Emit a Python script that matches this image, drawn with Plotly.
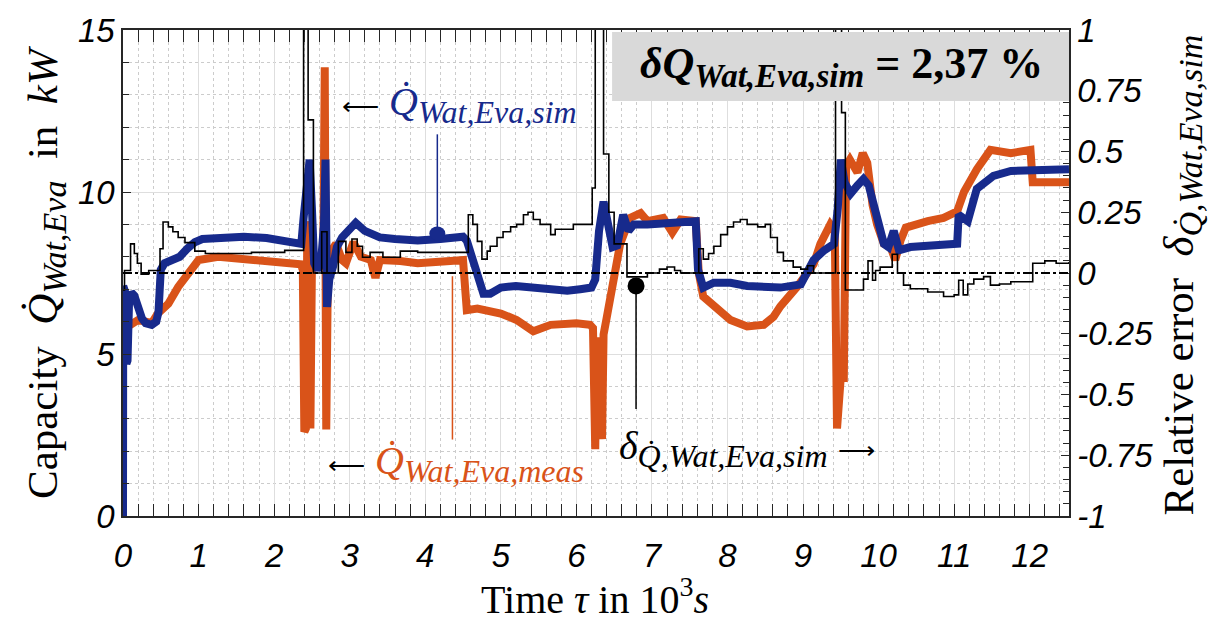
import plotly.graph_objects as go

# ---- measured and simulated evaporator water-side capacity (kW) over time (10^3 s)
meas_t = [0.000, 0.03, 0.10, 0.20, 0.30, 0.38, 0.46, 0.60, 0.73, 0.86, 1.00, 1.26, 1.70, 2.14,
          2.35, 2.38, 2.40, 2.42, 2.44, 2.46, 2.48, 2.50, 2.55, 2.65, 2.67, 2.69, 2.71, 2.76,
          2.82, 2.90, 2.95, 3.05, 3.15, 3.28, 3.34, 3.40, 3.67, 3.90, 4.33, 4.50, 4.55, 4.69,
          5.00, 5.21, 5.43, 5.66, 6.00, 6.18, 6.22, 6.25, 6.27, 6.31, 6.34, 6.36, 6.40, 6.45,
          6.50, 6.58, 6.71, 6.85, 6.94, 7.15, 7.27, 7.38, 7.58, 7.62, 7.68, 7.82, 8.04, 8.26,
          8.48, 8.61, 8.70, 8.92, 9.14, 9.23, 9.36, 9.42, 9.45, 9.50, 9.54, 9.57, 9.62, 9.72,
          9.79, 9.85, 9.92, 9.98, 10.07, 10.16, 10.22, 10.29, 10.36, 10.65, 10.86, 11.04,
          11.13, 11.30, 11.48, 11.75, 12.01, 12.04, 12.52]
meas_q = [5.7, 6.0, 5.9, 6.05, 6.0, 5.95, 6.25, 6.55, 7.07, 7.47, 7.9, 8.0, 7.9, 7.85,
          7.77, 7.6, 2.6, 2.7, 9.1, 8.0, 2.7, 7.7, 7.8, 7.7, 13.85, 2.67, 7.2, 8.2,
          8.4, 7.9, 7.8, 8.45, 8.0, 7.9, 7.35, 7.9, 7.87, 7.8, 7.87, 7.9, 6.35, 6.4,
          6.25, 6.05, 5.7, 5.9, 5.95, 5.9, 5.8, 2.06, 5.5, 5.0, 2.37, 5.6, 6.1, 6.8,
          7.55, 8.4, 9.2, 9.35, 9.1, 9.2, 8.75, 9.15, 9.1, 7.5, 6.77, 6.47, 6.05, 5.85,
          5.9, 6.15, 6.47, 7.07, 7.77, 8.4, 9.0, 8.8, 2.7, 4.3, 4.28, 10.8, 11.0, 10.6,
          11.2, 10.9, 9.6, 9.0, 8.4, 8.3, 7.9, 8.5, 8.9, 9.1, 9.2, 9.4,
          10.0, 10.7, 11.3, 11.2, 11.3, 10.3, 10.3]

sim_t = [0.000, 0.003, 0.03, 0.045, 0.06, 0.08, 0.11, 0.15, 0.20, 0.25, 0.30, 0.38, 0.44, 0.47,
         0.50, 0.55, 0.65, 0.75, 0.85, 0.95, 1.05, 1.30, 1.60, 1.90, 2.10, 2.30, 2.36, 2.39,
         2.44, 2.47, 2.50, 2.53, 2.57, 2.62, 2.66, 2.68, 2.70, 2.73, 2.78, 2.83, 2.90, 3.00,
         3.08, 3.20, 3.40, 3.60, 3.90, 4.20, 4.50, 4.55, 4.60, 4.69, 4.77, 4.86, 5.00, 5.20,
         5.43, 5.70, 5.88, 6.05, 6.20, 6.25, 6.30, 6.36, 6.42, 6.48, 6.54, 6.62, 6.69, 6.76,
         6.94, 7.20, 7.38, 7.58, 7.61, 7.64, 7.68, 7.82, 8.04, 8.26, 8.50, 8.70, 8.97, 9.06,
         9.14, 9.28, 9.41, 9.46, 9.50, 9.55, 9.63, 9.72, 9.80, 9.87, 9.98, 10.07, 10.13,
         10.20, 10.27, 10.42, 10.70, 11.04, 11.06, 11.12, 11.18, 11.30, 11.52, 11.75, 12.19,
         12.52]
sim_q = [0.0, 7.1, 6.9, 4.7, 4.8, 6.6, 6.9, 6.8, 6.4, 6.1, 5.95, 5.9, 6.0, 6.3,
         7.6, 7.8, 7.9, 8.0, 8.25, 8.45, 8.55, 8.6, 8.62, 8.58, 8.5, 8.45, 8.4, 9.2,
         10.8, 11.0, 9.5, 7.8, 7.6, 7.8, 9.0, 11.0, 6.45, 7.3, 7.7, 8.3, 8.6, 8.9,
         9.05, 8.8, 8.6, 8.55, 8.5, 8.55, 8.62, 8.5, 8.1, 7.4, 6.86, 6.86, 7.05, 7.1,
         7.07, 7.0, 6.95, 7.0, 7.05, 7.3, 8.8, 9.7, 8.8, 8.3, 8.35, 9.3, 8.8, 9.0,
         9.0, 9.05, 9.1, 9.1, 7.6, 7.25, 7.05, 7.2, 7.2, 7.1, 7.05, 7.05, 7.15, 7.6,
         7.9, 8.2, 8.4, 9.5, 11.0, 10.3, 9.95, 10.2, 10.4, 10.2, 9.3, 8.4, 8.3,
         8.8, 8.2, 8.3, 8.35, 8.4, 9.3, 9.2, 9.1, 10.1, 10.5, 10.65, 10.7,
         10.7]

# ---- relative error of the simulation (stepwise, right axis)
err_t = [0.00, 0.02, 0.10, 0.15, 0.19, 0.24, 0.34, 0.49, 0.53, 0.60, 0.66, 0.73, 0.82, 0.95,
         1.09, 1.70, 2.14, 2.39, 2.45, 2.52, 2.63, 2.70, 2.85, 2.95, 3.03, 3.10, 3.17, 3.27,
         3.44, 3.67, 3.90, 4.57, 4.63, 4.69, 4.75, 4.82, 4.86, 4.95, 5.03, 5.13, 5.21, 5.30,
         5.36, 5.43, 5.52, 5.66, 5.72, 5.96, 6.21, 6.25, 6.36, 6.43, 6.50, 6.67, 6.94, 7.10,
         7.20, 7.30, 7.38, 7.62, 7.68, 7.75, 7.82, 7.91, 8.00, 8.08, 8.17, 8.26, 8.40, 8.50,
         8.57, 8.66, 8.74, 8.87, 8.97, 9.06, 9.14, 9.43, 9.51, 9.56, 9.80, 9.86, 9.92, 9.96,
         10.02, 10.18, 10.25, 10.33, 10.42, 10.65, 10.86, 11.00, 11.06, 11.12, 11.18, 11.26,
         11.39, 11.48, 11.60, 11.75, 12.04, 12.20, 12.35, 12.52]
err_d = [-0.07, 0.01, 0.12, 0.08, 0.04, -0.005, 0.01, 0.10, 0.21, 0.19, 0.17, 0.146, 0.125, 0.09,
         0.08, 0.085, 0.093, 1.5, 0.63, 0.0, 0.17, 0.0, 0.13, 0.085, 0.14, 0.11, 0.065, 0.085,
         0.065, 0.09, 0.085, 0.24, 0.2, 0.13, 0.057, 0.09, 0.11, 0.146, 0.17, 0.19, 0.2, 0.24,
         0.25, 0.22, 0.2, 0.158, 0.18, 0.2, 0.35, 1.5, 0.49, 0.25, 0.12, -0.016, 0.0, 0.016,
         0.025, 0.01, 0.0, 0.1, 0.057, 0.08, 0.11, 0.158, 0.19, 0.21, 0.22, 0.2, 0.19, 0.2,
         0.146, 0.085, 0.05, 0.024, 0.016, 0.03, 0.0, 1.5, 0.66, -0.07, -0.025, 0.05, -0.03, 0.01,
         0.024, 0.077, 0.0, -0.05, -0.065, -0.078, -0.097, -0.09, -0.03, -0.09, -0.045, -0.025,
         -0.015, -0.05, -0.045, -0.036, 0.04, 0.05, 0.04, 0.045]

x_ticks = [0, 1, 2, 3, 4, 5, 6, 7, 8, 9, 10, 11, 12]
y_ticks = [0, 5, 10, 15]
err_ticks = [-1, -0.75, -0.5, -0.25, 0, 0.25, 0.5, 0.75, 1]
err_ticktext = ["-1", "-0.75", "-0.5", "-0.25", "0", "0.25", "0.5", "0.75", "1"]

ORANGE = "#d95319"
BLUE = "#172a8c"
AXIS = "#262626"
SERIF = "Liberation Serif"
TICKFONT = dict(family="Liberation Sans", size=33, color="black", style="italic")


def sub(s, px):
    """Subscript with an explicit, LaTeX-like size."""
    return f'<sub><span style="font-size:{px}px"><i>{s}</i></span></sub>'


def arrow(glyph):
    """Black pointer arrow next to a coloured label."""
    return f'<span style="color:black;font-size:26px">{glyph}</span>'


fig = go.Figure()
fig.add_trace(go.Scatter(x=meas_t, y=meas_q, mode="lines", yaxis="y",
                         line=dict(color=ORANGE, width=8), showlegend=False))
fig.add_trace(go.Scatter(x=sim_t, y=sim_q, mode="lines", yaxis="y",
                         line=dict(color=BLUE, width=8), showlegend=False))
fig.add_trace(go.Scatter(x=err_t, y=err_d, mode="lines", yaxis="y2",
                         line=dict(color="black", width=1.6, shape="hv"), showlegend=False))

grid_major = "#dedede"
grid_minor = "#cccccc"

fig.update_layout(
    width=1229, height=622,
    margin=dict(l=123, r=160, t=22, b=106),
    paper_bgcolor="white", plot_bgcolor="white",
    xaxis=dict(range=[0, 12.52], tickvals=x_ticks, ticks="inside", ticklen=12,
               tickwidth=1.3, tickcolor=AXIS, showline=True, linecolor=AXIS, linewidth=1.5,
               mirror="allticks", showgrid=True, gridcolor=grid_major, gridwidth=1,
               zeroline=False, tickfont=TICKFONT, ticklabelstandoff=10,
               minor=dict(dtick=0.2, ticks="inside", ticklen=6, tickcolor=AXIS,
                          showgrid=True, gridcolor=grid_minor, griddash="dot", gridwidth=1)),
    yaxis=dict(range=[0, 15], tickvals=y_ticks, ticks="inside", ticklen=8,
               tickwidth=1.3, tickcolor=AXIS, showline=True, linecolor=AXIS, linewidth=1.5,
               showgrid=True, gridcolor=grid_major, gridwidth=1, zeroline=False,
               tickfont=TICKFONT,
               minor=dict(dtick=1, ticks="inside", ticklen=6, tickcolor=AXIS,
                          showgrid=True, gridcolor=grid_minor, griddash="dot", gridwidth=1)),
    yaxis2=dict(range=[-1, 1], overlaying="y", side="right", tickvals=err_ticks,
                ticktext=err_ticktext, ticks="inside", ticklen=8, tickwidth=1.3,
                tickcolor=AXIS, showline=True, linecolor=AXIS, linewidth=1.5,
                showgrid=False, zeroline=False, tickfont=TICKFONT,
                minor=dict(dtick=0.05, ticks="inside", ticklen=6, tickcolor=AXIS)),
)

# zero reference of the relative error
fig.add_shape(type="line", xref="paper", x0=0, x1=1, yref="y2", y0=0, y1=0,
              line=dict(color="black", width=2, dash="dashdot"))

# leader lines from the labels to their curves
fig.add_shape(type="line", xref="x", yref="y", x0=4.16, x1=4.16, y0=8.72, y1=11.78,
              line=dict(color=BLUE, width=1.5))
fig.add_shape(type="circle", xref="x", yref="y", xsizemode="pixel", ysizemode="pixel",
              xanchor=4.16, yanchor=8.72, x0=-8, x1=8, y0=-7, y1=7,
              fillcolor=BLUE, line=dict(width=0))
fig.add_shape(type="line", xref="x", yref="y", x0=4.36, x1=4.36, y0=2.36, y1=7.4,
              line=dict(color=ORANGE, width=1.5))
fig.add_shape(type="line", xref="x", yref="y2", x0=6.79, x1=6.79, y0=-0.56, y1=-0.053,
              line=dict(color="black", width=1.5))
fig.add_shape(type="circle", xref="x", yref="y2", xsizemode="pixel", ysizemode="pixel",
              xanchor=6.79, yanchor=-0.053, x0=-8.5, x1=8.5, y0=-8.5, y1=8.5,
              fillcolor="black", line=dict(width=0))

# summary box
fig.add_shape(type="rect", xref="paper", yref="paper", x0=0.517, x1=1.0, y0=0.854, y1=0.996,
              fillcolor="#d9d9d9", line=dict(width=0), layer="above")

annotations = [
    dict(text="<b><i>δQ</i>" + sub("<b>Wat,Eva,sim</b>", 33) + " = 2,37 %</b>",
         x=0.760, y=0.925, font=dict(family=SERIF, size=44, color="black")),
    dict(text=arrow("⟵") + " <i>Q̇</i>" + sub("Wat,Eva,sim", 32),
         x=0.2294, y=0.846, xanchor="left", font=dict(family=SERIF, size=40, color=BLUE)),
    dict(text=arrow("⟵") + " <i>Q̇</i>" + sub("Wat,Eva,meas", 32),
         x=0.2146, y=0.109, xanchor="left", font=dict(family=SERIF, size=40, color=ORANGE)),
    dict(text="<i>δ</i>" + sub("Q̇,Wat,Eva,sim", 32) + " " + arrow("⟶"),
         x=0.522, y=0.138, xanchor="left", font=dict(family=SERIF, size=40, color="black")),
    dict(text="Time <i>τ</i> in 10<sup>3</sup><i>s</i>",
         x=0.499, y=-0.166, font=dict(family=SERIF, size=40, color="black")),
    dict(text="Capacity  <i>Q̇</i>" + sub("Wat,Eva", 34) + "  in  <i>kW</i>", textangle=-90,
         x=-0.0814, y=0.502, font=dict(family=SERIF, size=43, color="black")),
    dict(text="Relative error  <i>δ</i>" + sub("Q̇,Wat,Eva,sim", 34), textangle=-90,
         x=1.119, y=0.496, font=dict(family=SERIF, size=43, color="black")),
]
for a in annotations:
    a.setdefault("xanchor", "center")
    a.setdefault("yanchor", "middle")
    fig.add_annotation(xref="paper", yref="paper", showarrow=False, **a)

fig.write_html("out.html")
